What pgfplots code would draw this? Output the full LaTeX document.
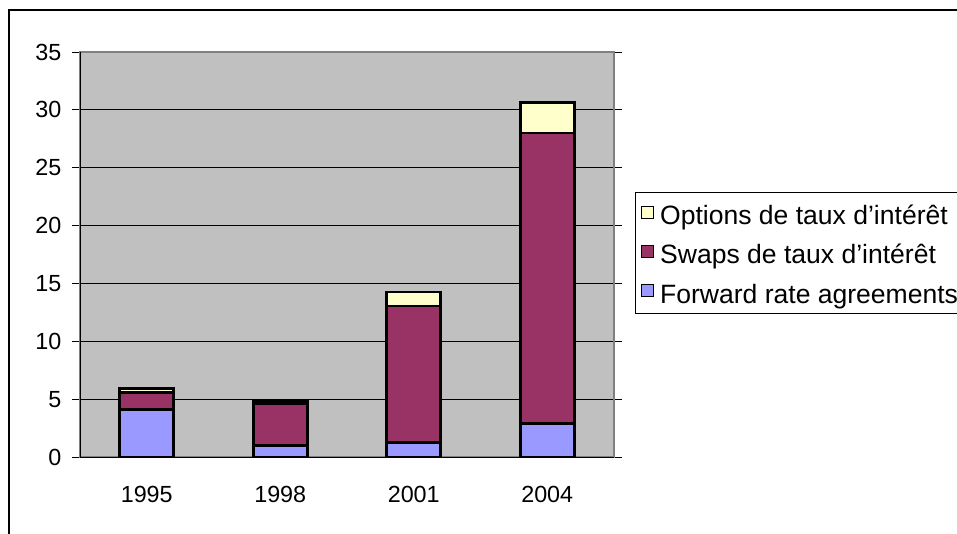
\documentclass[border=0pt]{standalone}
\usepackage{fontspec}
\setmainfont{Liberation Sans}
\usepackage{pgfplots}
\pgfplotsset{compat=1.18}
\definecolor{plotgray}{HTML}{C0C0C0}
\definecolor{bordergray}{HTML}{808080}
\definecolor{fra}{HTML}{9999FF}
\definecolor{swaps}{HTML}{993366}
\definecolor{opts}{HTML}{FFFFCC}
\begin{document}
\fontsize{17.5}{20}\selectfont
\begin{tikzpicture}[x=0.75pt,y=0.75pt]
\useasboundingbox (0,0) rectangle (957,533);
\draw[line width=1.5] (9,-20) -- (9,523) -- (990,523);
\begin{axis}[
  at={(80*0.75pt,76*0.75pt)}, anchor=south west,
  scale only axis, width=400.5pt, height=303.75pt,
  ybar stacked, bar width=40.5pt,
  xmin=-0.5, xmax=3.5, ymin=0, ymax=35,
  xtick={0,1,2,3}, xticklabels={1995,1998,2001,2004},
  minor xtick={-0.5,0.5,1.5,2.5,3.5},
  ytick={0,5,...,35},
  tick align=outside, major tick length=6pt, minor tick length=6pt,
  xtick style={draw=none}, minor x tick style={black, line width=0.75pt},
  ytick style={black, line width=0.75pt},
  xticklabel style={yshift=-10pt},
  yticklabel style={xshift=-2pt},
  ymajorgrids, grid style={black, line width=0.75pt},
  axis background/.style={fill=plotgray},
  axis line style={draw=bordergray, line width=1.5pt},
  /pgf/number format/assume math mode=true,
  ticklabel style={font=\fontsize{17.5}{20}\selectfont},
  clip=false,
  reverse legend,
  legend style={at={(1.0393,0.655)}, anchor=north west, draw=black, line width=0.75pt, fill=white,
    font=\fontsize{19.9}{22}\selectfont, row sep=8.5pt, inner xsep=3.75pt, inner ysep=5.75pt,
    nodes={inner sep=0pt, text height=17pt, text depth=2.25pt},
    cells={anchor=west}},
  legend image code/.code={\path (0pt,10.25pt); \draw[#1,draw=black,line width=0.75pt] (0pt,-2.5pt) rectangle (9pt,6.5pt); \path (12.75pt,0pt);},
]
\addplot[fill=fra, draw=black, line width=2pt] coordinates {(0,4.1) (1,1.0) (2,1.25) (3,2.9)};
\addplot[fill=swaps, draw=black, line width=2pt] coordinates {(0,1.5) (1,3.65) (2,11.8) (3,25.1)};
\addplot[fill=opts, draw=black, line width=2pt] coordinates {(0,0.3) (1,0.15) (2,1.2) (3,2.65)};
\legend{Forward rate agreements, Swaps de taux d'intérêt, Options de taux d'intérêt}
\draw[black, line width=0.75pt] (rel axis cs:0,1) -- (rel axis cs:0,0) -- (rel axis cs:1,0);
\end{axis}
\end{tikzpicture}
\end{document}
